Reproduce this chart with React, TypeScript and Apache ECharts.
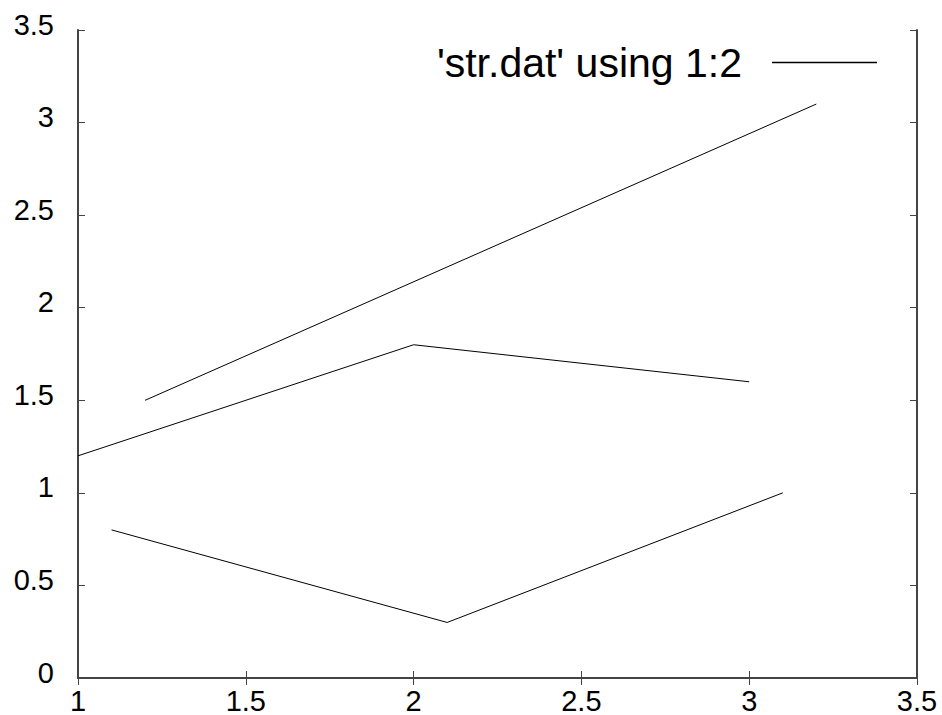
import React, { useEffect, useRef } from "react";
import * as echarts from "echarts";

const seriesName = "'str.dat' using 1:2";
// Blocks of the data file, separated by blank lines (null breaks)
const block1: [number, number][] = [[1, 1.2], [2, 1.8], [3, 1.6]];
const block2: [number, number][] = [[1.2, 1.5], [3.2, 3.1]];
const block3: [number, number][] = [[1.1, 0.8], [2.1, 0.3], [3.1, 1.0]];
const xRange = [1, 3.5];
const yRange = [0, 3.5];
const tickStep = 0.5;

export default function App() {
  const ref = useRef<HTMLDivElement>(null);
  useEffect(() => {
    if (!ref.current) return;
    const chart = echarts.init(ref.current, undefined, { renderer: "svg" });
    const data: any[] = [...block1, [null, null], ...block2, [null, null], ...block3];
    const font = "Liberation Sans";
    const axisLine = { show: true, lineStyle: { color: "#444", width: 2 } };
    const axisTick = { show: true, inside: true, length: 7, lineStyle: { color: "#444", width: 1 } };
    chart.setOption({
      animation: false,
      backgroundColor: "#fff",
      grid: { left: 78, right: 25, top: 30, bottom: 36, containLabel: false },
      legend: {
        show: true,
        right: 65,
        top: 30,
        padding: 0,
        align: "right",
        icon: "rect",
        itemWidth: 105,
        itemHeight: 1.5,
        textStyle: { fontFamily: font, fontSize: 41, color: "#000", lineHeight: 41, padding: [0, 25, 24, 0] },
        data: [seriesName],
      },
      xAxis: [
        {
          type: "value", min: xRange[0], max: xRange[1], interval: tickStep,
          axisLine, axisTick, splitLine: { show: false },
          axisLabel: { fontFamily: font, fontSize: 29, color: "#000", margin: 8 },
        },
        {
          type: "value", position: "top", min: xRange[0], max: xRange[1], interval: tickStep,
          axisLine, axisTick, splitLine: { show: false }, axisLabel: { show: false },
        },
      ],
      yAxis: [
        {
          type: "value", min: yRange[0], max: yRange[1], interval: tickStep,
          axisLine, axisTick, splitLine: { show: false },
          axisLabel: { fontFamily: font, fontSize: 29, color: "#000", margin: 24, verticalAlign: "bottom", lineHeight: 11 },
        },
        {
          type: "value", position: "right", min: yRange[0], max: yRange[1], interval: tickStep,
          axisLine, axisTick, splitLine: { show: false }, axisLabel: { show: false },
        },
      ],
      series: [
        {
          name: seriesName,
          type: "line",
          data,
          showSymbol: false,
          symbol: "none",
          connectNulls: false,
          lineStyle: { color: "#000", width: 1 },
          itemStyle: { color: "#000" },
        },
      ],
    });
    return () => chart.dispose();
  }, []);
  return <div ref={ref} style={{ position: "fixed", left: 0, top: 0, width: 942, height: 715 }} />;
}
